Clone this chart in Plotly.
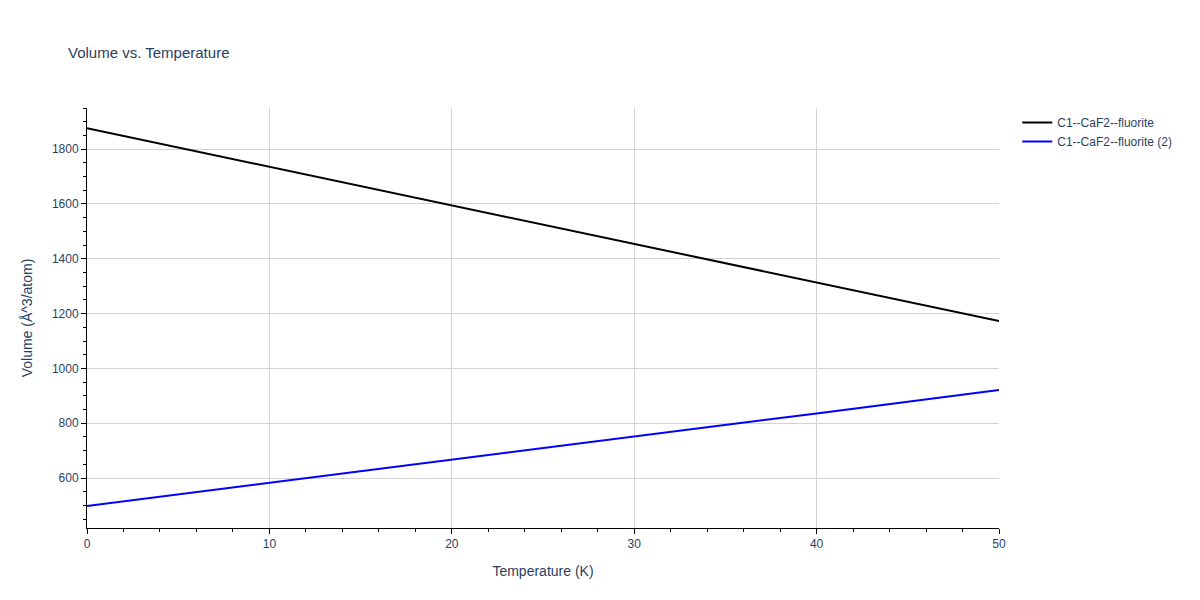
import plotly.graph_objects as go

temps = [0, 10, 20, 30, 40, 50]
vol_a = [1876, 1735, 1595, 1455, 1314, 1173]
vol_b = [498, 582, 666, 750, 836, 921]

fig = go.Figure()
fig.add_trace(go.Scatter(x=temps, y=vol_a, mode="lines", name="C1--CaF2--fluorite",
                         line=dict(color="black", width=2)))
fig.add_trace(go.Scatter(x=temps, y=vol_b, mode="lines", name="C1--CaF2--fluorite (2)",
                         line=dict(color="blue", width=2)))
axis_common = dict(showline=True, linecolor="black", ticks="outside", tickcolor="black",
                   gridcolor="lightgray", zeroline=False,
                   minor=dict(ticks="outside", tickcolor="black", ticklen=3, showgrid=False))
fig.update_layout(
    template="plotly_white", width=1200, height=600,
    font=dict(family="Arial, Liberation Sans, sans-serif"),
    margin=dict(l=79, r=209, t=100, b=80),
    title=dict(text="Volume vs. Temperature", x=0.05, font=dict(size=15)),
    xaxis=dict(title="Temperature (K)", range=[0, 50], **axis_common),
    yaxis=dict(title="Volume (Å^3/atom)", range=[418, 1950], **axis_common),
)
fig.write_html("out.html")
